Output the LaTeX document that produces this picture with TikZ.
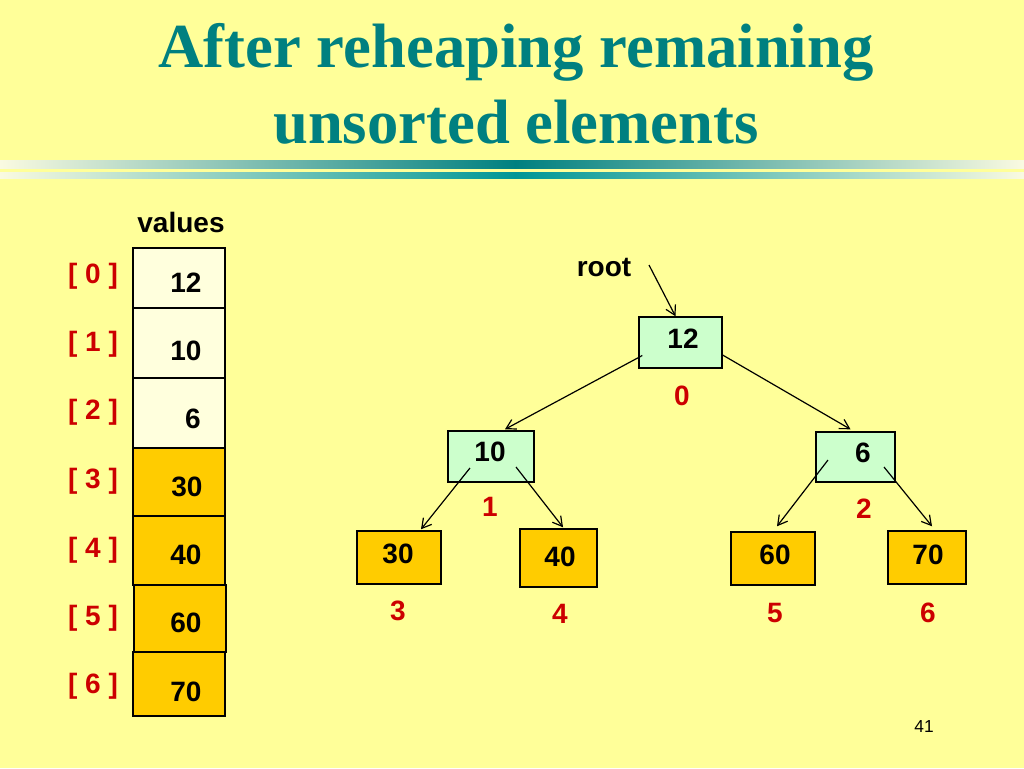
\documentclass[tikz,border=0pt]{standalone}
\usepackage{fontspec}
\setmainfont{Liberation Serif}
\newfontfamily\arialf{Liberation Sans}
\usetikzlibrary{calc,arrows.meta}
\definecolor{bgyellow}{RGB}{255,255,153}
\definecolor{teal}{RGB}{0,128,128}
\definecolor{tealb}{RGB}{0,150,150}
\definecolor{pale}{RGB}{250,250,225}
\definecolor{idxred}{RGB}{204,0,0}
\definecolor{cream}{RGB}{255,255,221}
\definecolor{gold}{RGB}{255,204,0}
\definecolor{mint}{RGB}{204,255,204}
\begin{document}
\begin{tikzpicture}[x=0.75pt,y=-0.75pt,
  txt/.style={font=\arialf\bfseries\fontsize{21}{24}\selectfont, inner sep=0pt},
  idx/.style={txt, text=idxred},
  cell/.style={draw=black, line width=1.1pt, minimum width=69pt, inner sep=0pt},
  tbox/.style={draw=black, line width=1.1pt, inner sep=0pt},
  arr/.style={-{Straight Barb[length=7pt,width=8pt,line width=0.9pt]}, line width=0.9pt, black}]
\fill[bgyellow] (0,0) rectangle (1024,768);
\useasboundingbox (0,0) rectangle (1024,768);
% title
\node[anchor=base, text=teal, font=\bfseries\fontsize{47}{57}\selectfont, inner sep=0pt] (t1) at (516,67) {After reheaping remaining};
\node[anchor=base, text=teal, font=\bfseries\fontsize{47}{57}\selectfont, inner sep=0pt] (t2) at (516,143) {unsorted elements};
% gradient bars
\shade[left color=pale, right color=teal] (0,160) rectangle (516,168);
\shade[left color=teal, right color=pale] (516,160) rectangle (1024,168);
\shade[left color=pale, right color=tealb] (0,172) rectangle (516,178);
\shade[left color=tealb, right color=pale] (516,172) rectangle (1024,178);
% array
\node[txt] (vals) at (181,222) {values};
\node[cell, fill=cream, minimum height=45pt] (a0) at (179,278) {};
\node[cell, fill=cream, minimum height=52.5pt] (a1) at (179,343) {};
\node[cell, fill=cream, minimum height=52.5pt] (a2) at (179,413) {};
\node[cell, fill=gold, minimum height=51pt] (a3) at (179,482) {};
\node[cell, fill=gold, minimum height=51.75pt] (a4) at (179,550.5) {};
\node[cell, fill=gold, minimum height=50.25pt] (a5) at (180,618.5) {};
\node[cell, fill=gold, minimum height=48pt] (a6) at (179,684) {};
\node[txt] (v0) at (186,283) {12};
\node[txt] (v1) at (186,351) {10};
\node[txt] (v2) at (193,419) {6};
\node[txt] (v3) at (187,487) {30};
\node[txt] (v4) at (186,555) {40};
\node[txt] (v5) at (186,623) {60};
\node[txt] (v6) at (186,692) {70};
\node[idx] (i0) at (93,276.5) {[ 0 ]};
\node[idx] (i1) at (93,344) {[ 1 ]};
\node[idx] (i2) at (93,412.5) {[ 2 ]};
\node[idx] (i3) at (93,481) {[ 3 ]};
\node[idx] (i4) at (93,550) {[ 4 ]};
\node[idx] (i5) at (93,618) {[ 5 ]};
\node[idx] (i6) at (93,686) {[ 6 ]};
% tree
\node[tbox, fill=mint, minimum width=62.25pt, minimum height=38.25pt] (n0) at (680.5,342.5) {};
\node[tbox, fill=mint, minimum width=64.5pt, minimum height=38.25pt] (n1) at (491,456.5) {};
\node[tbox, fill=mint, minimum width=59.25pt, minimum height=37.5pt] (n2) at (855.5,457) {};
\node[tbox, fill=gold, minimum width=63pt, minimum height=39.75pt] (n3) at (399,557.5) {};
\node[tbox, fill=gold, minimum width=57.75pt, minimum height=43.5pt] (n4) at (558.5,558) {};
\node[tbox, fill=gold, minimum width=63pt, minimum height=39.75pt] (n5) at (773,558.5) {};
\node[tbox, fill=gold, minimum width=58.5pt, minimum height=39.75pt] (n6) at (927,557.5) {};
\node[txt] (k0) at (683,339) {12};
\node[txt] (k1) at (490,452) {10};
\node[txt] (k2) at (863,453) {6};
\node[txt] (k3) at (398,554) {30};
\node[txt] (k4) at (560,557) {40};
\node[txt] (k5) at (775,555) {60};
\node[txt] (k6) at (928,555) {70};
\node[idx] (p0) at (682,395.5) {0};
\node[idx] (p1) at (490,507) {1};
\node[idx] (p2) at (864,509) {2};
\node[idx] (p3) at (398,611) {3};
\node[idx] (p4) at (560,614) {4};
\node[idx] (p5) at (775,613) {5};
\node[idx] (p6) at (928,613) {6};
\node[txt] (root) at (604,267) {root};
\coordinate (rt) at (649,265);
\draw[arr] (rt) -- ($(n0.north)+(-5,0)$);
\draw[arr] ($(n0.west)+(4,13)$) -- ($(n1.north)+(14,-1)$);
\draw[arr] ($(n0.east)+(-1,12)$) -- ($(n2.north)+(-5,-2)$);
\draw[arr] ($(n1.center)+(-21,11.5)$) -- ($(n3.north)+(22,-1)$);
\draw[arr] ($(n1.center)+(25,10.5)$) -- ($(n4.north)+(4.5,-1)$);
\draw[arr] ($(n2.center)+(-27.5,3)$) -- ($(n5.north)+(4,-5)$);
\draw[arr] ($(n2.center)+(28.5,10)$) -- ($(n6.north)+(5,-4)$);
% page number
\node[font=\arialf\fontsize{13}{15}\selectfont, inner sep=0pt] (pg) at (924,727) {41};
\end{tikzpicture}
\end{document}
